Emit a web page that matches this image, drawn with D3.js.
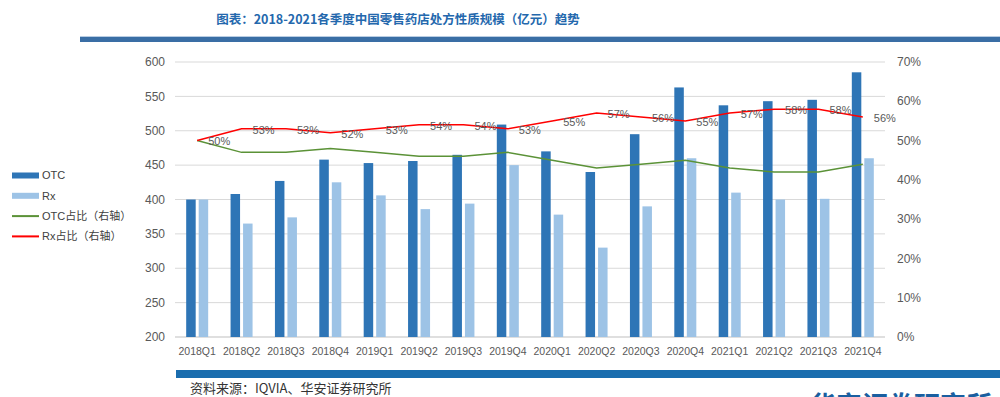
<!DOCTYPE html>
<html>
<head>
<meta charset="utf-8">
<script src="https://cdn.jsdelivr.net/npm/d3@7"></script>
<style>
  body { margin: 0; background: #fff; }
  svg { display: block; font-family: "Liberation Sans", Arial, sans-serif; }
</style>
</head>
<body>
<svg width="1000" height="397"></svg>
<script>
var quarters = ['2018Q1', '2018Q2', '2018Q3', '2018Q4', '2019Q1', '2019Q2', '2019Q3', '2019Q4',
  '2020Q1', '2020Q2', '2020Q3', '2020Q4', '2021Q1', '2021Q2', '2021Q3', '2021Q4'];
var otc = [400, 408, 427, 458, 453, 456, 465, 509, 470, 440, 495, 563, 537, 543, 545, 585];
var rx = [400, 365, 374, 425, 406, 386, 394, 450, 378, 330, 390, 460, 410, 400, 401, 460];
var otcShare = [50, 47, 47, 48, 47, 46, 46, 47, 45, 43, 44, 45, 43, 42, 42, 44];
var rxShare = [50, 53, 53, 52, 53, 54, 54, 53, 55, 57, 56, 55, 57, 58, 58, 56];
var leftTicks = [200, 250, 300, 350, 400, 450, 500, 550, 600];
var rightTicks = [0, 10, 20, 30, 40, 50, 60, 70];

var svg = d3.select('svg');
var plotL = 175, plotR = 885, plotT = 62, plotB = 337;

var x = d3.scaleBand().domain(quarters).range([plotL, plotR]);
var y = d3.scaleLinear().domain([200, 600]).range([plotB, plotT]);
var y2 = d3.scaleLinear().domain([0, 70]).range([plotB, plotT]);
var cx = function (i) { return x(quarters[i]) + x.bandwidth() / 2; };

// title
svg.append('text')
  .attr('x', 398).attr('y', 24)
  .attr('text-anchor', 'middle')
  .attr('font-family', '"Noto Sans CJK SC", sans-serif')
  .attr('font-size', 12.5).attr('font-weight', 'bold')
  .attr('fill', '#2468ad')
  .text('图表：2018-2021各季度中国零售药店处方性质规模（亿元）趋势');
svg.append('rect').attr('x', 80).attr('y', 36).attr('width', 920).attr('height', 1).attr('fill', '#b9cde3');
svg.append('rect').attr('x', 80).attr('y', 37).attr('width', 920).attr('height', 5).attr('fill', '#3a6ea5');

// grid
svg.append('g').selectAll('line').data(leftTicks.slice(1)).enter().append('line')
  .attr('x1', plotL).attr('x2', plotR)
  .attr('y1', function (d) { return y(d); }).attr('y2', function (d) { return y(d); })
  .attr('stroke', '#d9d9d9').attr('stroke-width', 1);
svg.append('line').attr('x1', plotL).attr('x2', plotR).attr('y1', plotB).attr('y2', plotB)
  .attr('stroke', '#bfbfbf');

// axis labels
svg.append('g').selectAll('text').data(leftTicks).enter().append('text')
  .attr('x', 165).attr('y', function (d) { return y(d); })
  .attr('dy', '0.35em').attr('text-anchor', 'end')
  .attr('font-size', 12).attr('fill', '#595959')
  .text(function (d) { return d; });
svg.append('g').selectAll('text').data(rightTicks).enter().append('text')
  .attr('x', 897).attr('y', function (d) { return y2(d); })
  .attr('dy', '0.35em').attr('text-anchor', 'start')
  .attr('font-size', 12).attr('fill', '#595959')
  .text(function (d) { return d + '%'; });
svg.append('g').selectAll('text').data(quarters).enter().append('text')
  .attr('x', function (d, i) { return cx(i); }).attr('y', 351)
  .attr('dy', '0.35em').attr('text-anchor', 'middle')
  .attr('font-size', 10.5).attr('fill', '#595959')
  .text(function (d) { return d; });

// bars
var bw = 9.5;
svg.append('g').selectAll('rect').data(otc).enter().append('rect')
  .attr('x', function (d, i) { return cx(i) - bw - 1.5; })
  .attr('y', function (d) { return y(d); })
  .attr('width', bw).attr('height', function (d) { return plotB - y(d); })
  .attr('fill', '#2e75b6');
svg.append('g').selectAll('rect').data(rx).enter().append('rect')
  .attr('x', function (d, i) { return cx(i) + 1.5; })
  .attr('y', function (d) { return y(d); })
  .attr('width', bw).attr('height', function (d) { return plotB - y(d); })
  .attr('fill', '#9dc3e6');

// lines
var line = d3.line()
  .x(function (d, i) { return cx(i); })
  .y(function (d) { return y2(d); });
svg.append('path').datum(otcShare).attr('d', line)
  .attr('fill', 'none').attr('stroke', '#5b9237').attr('stroke-width', 1.5);
svg.append('path').datum(rxShare).attr('d', line)
  .attr('fill', 'none').attr('stroke', '#ff0000').attr('stroke-width', 1.5);
svg.append('g').selectAll('text').data(rxShare).enter().append('text')
  .attr('x', function (d, i) { return cx(i) + 11; })
  .attr('y', function (d) { return y2(d) + 1; })
  .attr('dy', '0.35em')
  .attr('font-size', 11).attr('fill', '#595959')
  .text(function (d) { return d + '%'; });

// legend
var legend = [
  { name: 'OTC', color: '#2e75b6', h: 6 },
  { name: 'Rx', color: '#9dc3e6', h: 6 },
  { name: 'OTC占比（右轴）', color: '#5b9237', h: 2 },
  { name: 'Rx占比（右轴）', color: '#ff0000', h: 2 }
];
var lg = svg.append('g').selectAll('g').data(legend).enter().append('g')
  .attr('transform', function (d, i) { return 'translate(12,' + (175.5 + i * 20.3) + ')'; });
lg.append('rect').attr('x', 0).attr('y', function (d) { return -d.h / 2; })
  .attr('width', 27).attr('height', function (d) { return d.h; })
  .attr('fill', function (d) { return d.color; });
lg.append('text').attr('x', 30).attr('dy', '0.35em')
  .attr('font-family', '"Liberation Sans", "Noto Sans CJK SC", sans-serif')
  .attr('font-size', 11).attr('fill', '#404040')
  .text(function (d) { return d.name; });

// footer
svg.append('rect').attr('x', 176).attr('y', 370).attr('width', 824).attr('height', 8).attr('fill', '#1a6dae');
svg.append('text').attr('x', 190).attr('y', 393)
  .attr('font-family', '"Noto Sans CJK SC", sans-serif')
  .attr('font-size', 13).attr('fill', '#333')
  .text('资料来源：IQVIA、华安证券研究所');
svg.append('text').attr('x', 810).attr('y', 415)
  .attr('font-family', '"Noto Sans CJK SC", sans-serif')
  .attr('font-size', 26).attr('font-weight', 'bold').attr('fill', '#1a5fa0')
  .text('华安证券研究所');
</script>
</body>
</html>
